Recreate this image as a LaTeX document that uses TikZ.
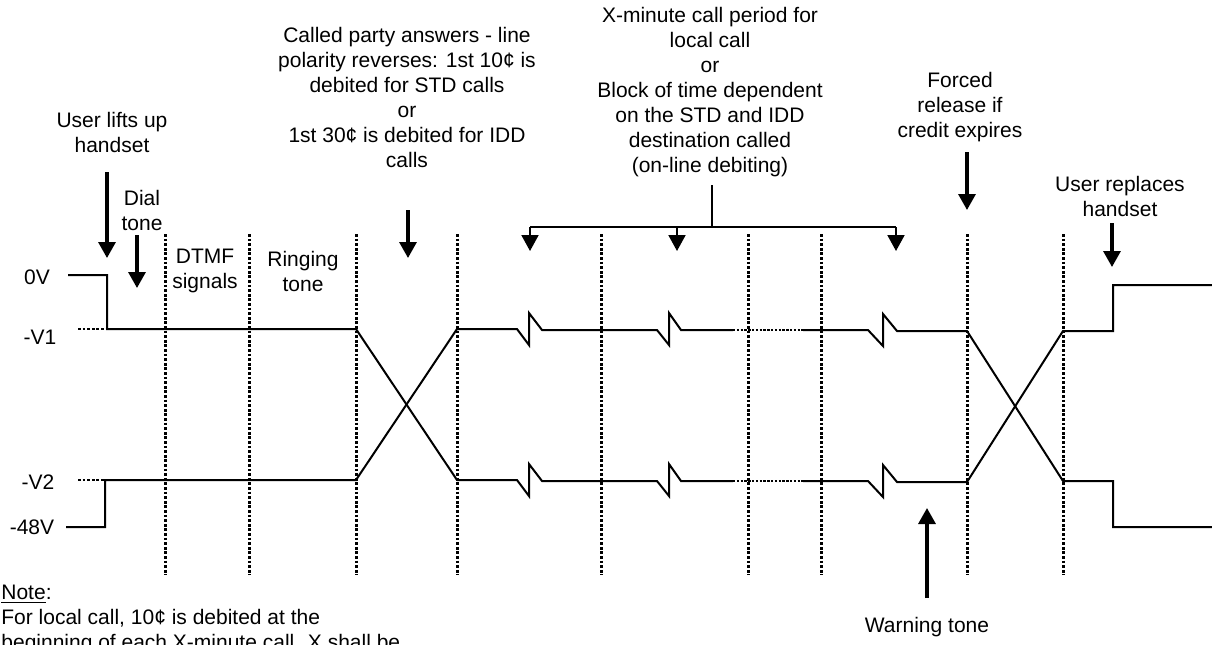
\documentclass[tikz,border=0pt]{standalone}
\usepackage{fontspec}
\setmainfont{Liberation Sans}
\usetikzlibrary{arrows.meta,positioning}

\begin{document}
\begin{tikzpicture}[
  x=0.5pt, y=-0.5pt,
  font=\fontsize{10.5}{12.5}\selectfont,
  caption/.style={align=center, inner sep=0pt},
  level/.style={line width=1pt, line join=miter},
  stub/.style={line width=1.1pt, dash pattern=on 1.2pt off 0.7pt},
  grid/.style={line width=1.5pt, dash pattern=on 1.4pt off 0.9pt},
  pointer/.style={line width=1.6pt, -{Triangle[width=8.5pt,length=8pt]}},
  branch/.style={line width=1pt},
  drop/.style={line width=1pt, -{Triangle[width=8.5pt,length=8pt]}}
]
\useasboundingbox (0,0) rectangle (1212,644);

% phase boundaries
\foreach \gx in {165,249,356,457,601,748,821,967,1063}
  \draw[grid] (\gx,234) -- (\gx,575);

% voltage levels
\node[caption] (v0)  at (37,277) {0V};
\node[caption] (v1)  at (40,337) {-V1};
\node[caption] (v2)  at (38,482) {-V2};
\node[caption] (v48) at (32,527) {-48V};

\draw[grid, line width=1.4pt] (78,329) -- (107,329);
\draw[grid, line width=1.4pt] (78,480) -- (105,480);

% line A and line B before answer
\draw[level] (68,275) -- (107,275) -- (107,329) -- (356,329) -- (457,480);
\draw[level] (66,527) -- (105,527) -- (105,480) -- (356,480) -- (457,329);

% upper wire during the call
\draw[level] (457,329) -- (517,329) -- (529,345) -- (529,313) -- (542,330)
  -- (657,330) -- (669,345) -- (669,313) -- (681,330) -- (733,330);
\draw[stub] (733,330) -- (803,330);
\draw[level] (803,330) -- (868,330) -- (883,346) -- (883,314) -- (897,331)
  -- (967,331) -- (1063,481) -- (1113,481) -- (1113,527) -- (1212,527);

% lower wire during the call
\draw[level] (457,480) -- (517,480) -- (529,496) -- (529,464) -- (542,481)
  -- (657,481) -- (669,496) -- (669,464) -- (681,481) -- (733,481);
\draw[stub] (733,481) -- (803,481);
\draw[level] (803,481) -- (868,481) -- (883,497) -- (883,465) -- (897,482)
  -- (967,482) -- (1063,331) -- (1113,331) -- (1113,285) -- (1212,285);

% events
\node[caption] (lift) at (112,132) {User lifts up\\handset};
\node[caption] (dial) at (142,210) {Dial\\tone};
\node[caption] (dtmf) at (205,271) {DTMF\\signals};
\node[caption] (ring) at (303,271) {Ringing\\tone};
\node[caption] (answer) at (407,97)
  {Called party answers - line\\polarity reverses: 1st 10¢ is\\debited for STD calls\\or\\1st 30¢ is debited for IDD\\calls};
\node[caption] (period) at (710,92)
  {X-minute call period for\\local call\\or\\Block of time dependent\\on the STD and IDD\\destination called\\(on-line debiting)};
\node[caption] (release) at (960,107) {Forced\\release if\\credit expires};
\node[caption] (replace) at (1120,196) {User replaces\\handset};
\node[caption] (warn) at (927,627) {Warning tone};
\node[caption, anchor=north west, align=left] (note) at (1,585)
  {\underline{Note}:\\For local call, 10¢ is debited at the\\beginning of each X-minute call. X shall be};

\coordinate (liftTail) at (107,172);    \coordinate (liftTip) at (107,258);
\coordinate (dialTail) at (137,235);    \coordinate (dialTip) at (137,288);
\coordinate (answerTail) at (408,210);  \coordinate (answerTip) at (408,258);
\coordinate (releaseTail) at (967,152); \coordinate (releaseTip) at (967,210);
\coordinate (replaceTail) at (1112,223);\coordinate (replaceTip) at (1112,267);
\coordinate (warnTail) at (927,598);    \coordinate (warnTip) at (927,508);

\draw[pointer] (liftTail) -- (liftTip);
\draw[pointer] (dialTail) -- (dialTip);
\draw[pointer] (answerTail) -- (answerTip);
\draw[pointer] (releaseTail) -- (releaseTip);
\draw[pointer] (replaceTail) -- (replaceTip);
\draw[pointer] (warnTail) -- (warnTip);

% debiting blocks
\coordinate (periodFoot) at (712,185);
\coordinate (fork) at (712,227);
\draw[branch] (periodFoot) -- (fork);
\draw[branch] (530,227) -- (896,227);
\foreach \bx in {530,677,896}
  \draw[drop] (\bx,227) -- (\bx,251);

\end{tikzpicture}
\end{document}
